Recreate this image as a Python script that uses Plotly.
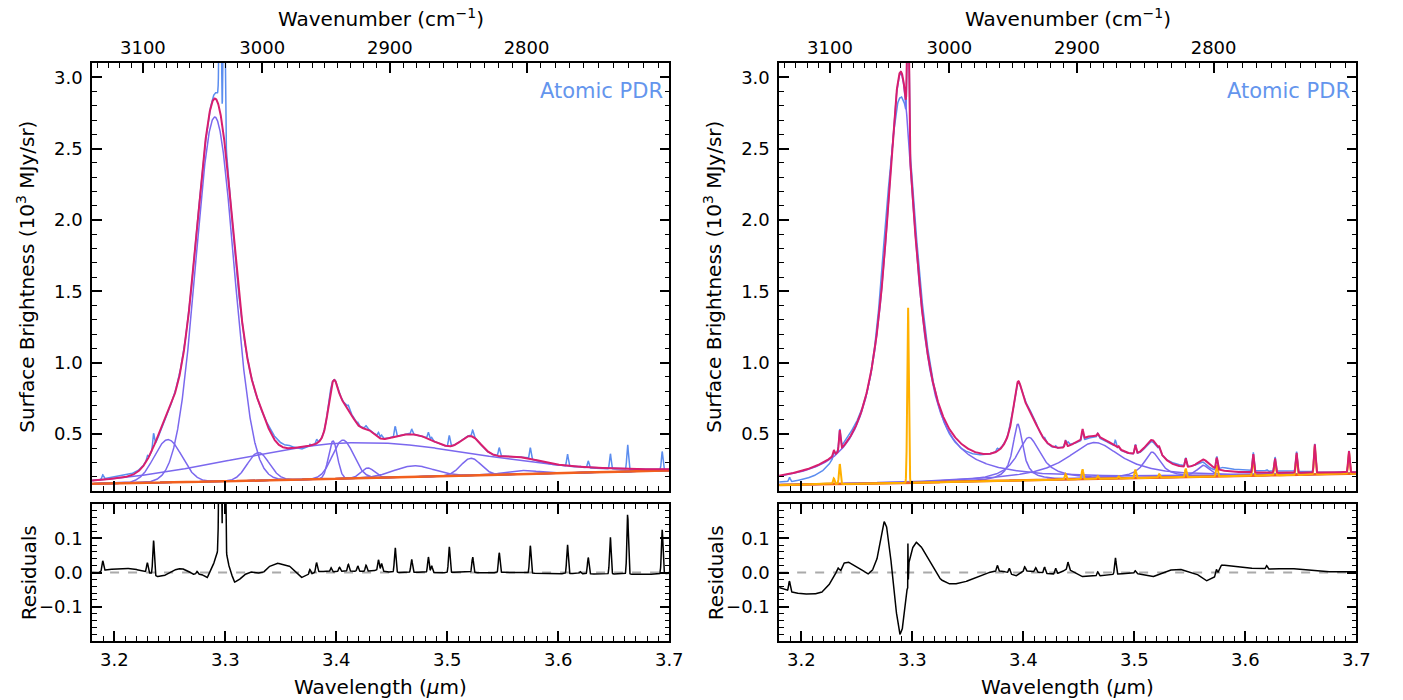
import numpy as np
import plotly.graph_objects as go

# ---------------- data ----------------
WL_MIN, WL_MAX = 3.18, 3.70

# continuum (10^3 MJy/sr)
L_cont_wl = [3.18, 3.30, 3.40, 3.50, 3.60, 3.70]
L_cont_val = [0.150, 0.168, 0.186, 0.205, 0.225, 0.244]
R_cont_wl = [3.18, 3.30, 3.40, 3.50, 3.60, 3.70]
R_cont_val = [0.142, 0.158, 0.175, 0.190, 0.206, 0.222]

# left panel (Atomic PDR, Gaussian fit): centre, peak above continuum, sigma
L_comp_center = [3.2483, 3.2905, 3.3298, 3.4150, 3.3970, 3.4060, 3.4284, 3.4699, 3.5213, 3.5670]
L_comp_amp = [0.300, 2.555, 0.196, 0.250, 0.265, 0.270, 0.070, 0.077, 0.120, 0.025]
L_comp_sigma = [0.0125, 0.0170, 0.0098, 0.1080, 0.0040, 0.0095, 0.0060, 0.0180, 0.0090, 0.0150]

# right panel (Lorentzian fit): centre, peak above continuum, half width
R_comp_center = [3.2895, 3.3950, 3.4050, 3.4640, 3.5160, 3.5620]
R_comp_amp = [2.870, 0.395, 0.300, 0.255, 0.180, 0.080]
R_comp_gamma = [0.0162, 0.0055, 0.0130, 0.0300, 0.0090, 0.0070]

# right panel narrow gas lines (gold): centre, peak above continuum
R_line_center = [3.2292, 3.2346, 3.2961, 3.4380, 3.4533, 3.4670, 3.4858, 3.5009, 3.5224,
                 3.5463, 3.5743, 3.6071, 3.6267, 3.6461, 3.6625, 3.6933]
R_line_amp = [0.04, 0.14, 1.24, 0.04, 0.07, 0.02, 0.015, 0.06, 0.025,
              0.06, 0.08, 0.13, 0.10, 0.14, 0.20, 0.15]
LINE_SIGMA = 0.0007

# residuals, left: smooth part
L_res_wl = [3.1800, 3.1850, 3.1927, 3.2000, 3.2087, 3.2170, 3.2246, 3.2326, 3.2386, 3.2446,
            3.2506, 3.2566, 3.2606, 3.2665, 3.2705, 3.2785, 3.2837, 3.2877, 3.2917, 3.2940,
            3.3000, 3.3012, 3.3044, 3.3084, 3.3124, 3.3164, 3.3224, 3.3280, 3.3343, 3.3383,
            3.3463, 3.3500, 3.3522, 3.3582, 3.3622, 3.3682, 3.3742, 3.3842, 3.3950, 3.4100,
            3.4250, 3.4360, 3.4460, 3.4559, 3.4750, 3.4950, 3.5150, 3.5350, 3.5550, 3.5755,
            3.5950, 3.6150, 3.6354, 3.6550, 3.6800, 3.7000]
L_res_val = [0.000, -0.002, 0.008, 0.010, 0.012, 0.011, 0.005, -0.002, -0.012, -0.010,
             0.002, 0.010, 0.012, 0.005, -0.005, -0.005, -0.015, 0.010, 0.045, 0.070,
             0.070, 0.050, 0.005, -0.028, -0.022, -0.008, 0.002, -0.002, 0.000, 0.015,
             0.028, 0.024, 0.022, 0.018, 0.005, -0.015, -0.008, 0.003, 0.002, 0.004,
             0.003, 0.006, 0.002, 0.000, 0.001, -0.001, 0.002, -0.002, 0.001, -0.002,
             -0.004, -0.003, -0.005, -0.004, -0.006, -0.002]
# residuals, left: narrow spikes (centre, height)
L_spike_wl = [3.1896, 3.2298, 3.2354, 3.2745, 3.2953, 3.2990, 3.3762, 3.3822, 3.3953, 3.4029,
              3.4109, 3.4193, 3.4268, 3.4380, 3.4408, 3.4531, 3.4679, 3.4830, 3.4859, 3.5018,
              3.5229, 3.5468, 3.5748, 3.6083, 3.6198, 3.6270, 3.6469, 3.6625, 3.6936]
L_spike_h = [0.030, 0.028, 0.100, 0.008, 1.200, 1.200, 0.015, 0.028, 0.012, 0.012,
             0.020, 0.016, 0.018, 0.032, 0.022, 0.072, 0.038, 0.045, 0.020, 0.075,
             0.045, 0.058, 0.080, 0.085, 0.006, 0.048, 0.108, 0.175, 0.128]

# residuals, right: smooth part
R_res_wl = [3.1800, 3.1841, 3.1909, 3.1980, 3.2100, 3.2179, 3.2239, 3.2291, 3.2331, 3.2355,
            3.2379, 3.2419, 3.2478, 3.2538, 3.2598, 3.2638, 3.2678, 3.2717, 3.2745, 3.2766,
            3.2798, 3.2837, 3.2869, 3.2889, 3.2909, 3.2937, 3.2953, 3.2958, 3.2960, 3.2964,
            3.2970, 3.2996, 3.3036, 3.3076, 3.3135, 3.3195, 3.3255, 3.3315, 3.3375, 3.3454,
            3.3534, 3.3614, 3.3693, 3.3813, 3.3932, 3.4012, 3.4111, 3.4191, 3.4291, 3.4402,
            3.4530, 3.4670, 3.4829, 3.5008, 3.5168, 3.5327, 3.5407, 3.5566, 3.5646, 3.5738,
            3.5785, 3.5885, 3.6005, 3.6192, 3.6403, 3.6682, 3.7000]
R_res_val = [-0.044, -0.049, -0.057, -0.061, -0.064, -0.059, -0.041, -0.015, 0.013, 0.005,
             0.027, 0.031, 0.021, 0.010, -0.005, 0.005, 0.034, 0.098, 0.149, 0.137,
             0.069, -0.069, -0.147, -0.181, -0.167, -0.078, -0.049, -0.045, 0.085, -0.020,
             0.030, 0.069, 0.088, 0.078, 0.044, 0.010, -0.020, -0.032, -0.034, -0.030,
             -0.020, -0.008, 0.000, 0.005, -0.010, 0.005, 0.002, -0.002, -0.005, 0.010,
             -0.012, -0.010, -0.005, -0.002, -0.012, 0.007, 0.010, -0.005, -0.025, -0.012,
             0.022, 0.018, 0.013, 0.010, 0.012, 0.002, 0.002]
R_spike_wl = [3.1893, 3.3765, 3.3873, 3.4012, 3.4111, 3.4191, 3.4291, 3.4402, 3.4670, 3.4829,
              3.5008, 3.5738, 3.6192]
R_spike_h = [0.030, 0.018, 0.015, 0.012, 0.012, 0.018, 0.017, 0.020, 0.012, 0.048,
             0.007, 0.020, 0.010]

WN_TICKS = [3100, 3000, 2900, 2800]

# ---------------- model evaluation ----------------
wl = np.linspace(WL_MIN, WL_MAX, 2601)


def gauss(x, c, a, s):
    return a * np.exp(-0.5 * ((x - c) / s) ** 2)


def lorentz(x, c, a, g):
    return a / (1.0 + ((x - c) / g) ** 2)


L_cont = np.interp(wl, L_cont_wl, L_cont_val)
R_cont = np.interp(wl, R_cont_wl, R_cont_val)

L_comps = [gauss(wl, c, a, s) for c, a, s in zip(L_comp_center, L_comp_amp, L_comp_sigma)]
R_comps = [lorentz(wl, c, a, g) for c, a, g in zip(R_comp_center, R_comp_amp, R_comp_gamma)]
R_lines = sum(gauss(wl, c, a, LINE_SIGMA) for c, a in zip(R_line_center, R_line_amp))

L_model = L_cont + sum(L_comps)
R_model = R_cont + sum(R_comps) + R_lines

L_res = np.interp(wl, L_res_wl, L_res_val) + sum(
    gauss(wl, c, h, LINE_SIGMA) for c, h in zip(L_spike_wl, L_spike_h))
R_res = np.interp(wl, R_res_wl, R_res_val) + sum(
    gauss(wl, c, h, LINE_SIGMA) for c, h in zip(R_spike_wl, R_spike_h))

L_obs = L_model + L_res
R_obs = R_model + R_res

# ---------------- figure ----------------
BLUE = "#5B8DEF"
MAGENTA = "#D81E6E"
PURPLE = "#7B68EE"
ORANGE = "#F2601E"
GOLD = "#FFB000"
FONT = "DejaVu Sans"

W, H = 1403, 700
XD = [[93 / W, 676 / W], [787 / W, 1370 / W]]
YD_MAIN = [1 - 491 / H, 1 - 63 / H]
YD_RES = [1 - 641 / H, 1 - 504 / H]

fig = go.Figure()


def add_panel(col, obs, comps, cont, model, res, lines=None):
    xm = "x" if col == 0 else "x4"
    ym = "y" if col == 0 else "y3"
    xr = "x2" if col == 0 else "x5"
    yr = "y2" if col == 0 else "y4"
    xt = "x3" if col == 0 else "x6"
    fig.add_trace(go.Scatter(x=wl, y=obs, mode="lines", line=dict(color=BLUE, width=1.5),
                             xaxis=xm, yaxis=ym, showlegend=False, hoverinfo="skip"))
    for comp in comps:
        fig.add_trace(go.Scatter(x=wl, y=cont + comp, mode="lines",
                                 line=dict(color=PURPLE, width=1.5),
                                 xaxis=xm, yaxis=ym, showlegend=False, hoverinfo="skip"))
    fig.add_trace(go.Scatter(x=wl, y=cont, mode="lines", line=dict(color=ORANGE, width=2.5),
                             xaxis=xm, yaxis=ym, showlegend=False, hoverinfo="skip"))
    if lines is not None:
        fig.add_trace(go.Scatter(x=wl, y=cont + lines, mode="lines",
                                 line=dict(color=GOLD, width=2),
                                 xaxis=xm, yaxis=ym, showlegend=False, hoverinfo="skip"))
    fig.add_trace(go.Scatter(x=wl, y=model, mode="lines", line=dict(color=MAGENTA, width=2),
                             xaxis=xm, yaxis=ym, showlegend=False, hoverinfo="skip"))
    # top wavenumber axis carrier (invisible)
    fig.add_trace(go.Scatter(x=[WL_MIN, WL_MAX], y=[None, None], mode="lines",
                             xaxis=xt, yaxis=ym, showlegend=False, hoverinfo="skip"))
    # residuals
    fig.add_trace(go.Scatter(x=[WL_MIN, WL_MAX], y=[0, 0], mode="lines",
                             line=dict(color="#AAAAAA", width=2, dash="dash"),
                             xaxis=xr, yaxis=yr, showlegend=False, hoverinfo="skip"))
    fig.add_trace(go.Scatter(x=wl, y=res, mode="lines", line=dict(color="black", width=1.5),
                             xaxis=xr, yaxis=yr, showlegend=False, hoverinfo="skip"))


add_panel(0, L_obs, L_comps, L_cont, L_model, L_res)
add_panel(1, R_obs, R_comps, R_cont, R_model, R_res, R_lines)

tickfont = dict(family=FONT, size=18, color="black")
common = dict(showline=True, linecolor="black", linewidth=1.5, ticks="inside",
              tickcolor="black", tickwidth=1.5, showgrid=False, zeroline=False,
              tickfont=tickfont)

wn_vals = [1e4 / w for w in WN_TICKS]
wn_minor = [1e4 / w for w in range(2710, 3150, 10) if w % 100 != 0]

for col in range(2):
    sfx = ["", "2", "3"] if col == 0 else ["4", "5", "6"]
    ysfx = ["", "2"] if col == 0 else ["3", "4"]
    ym_name = "y" + ysfx[0]
    yr_name = "y" + ysfx[1]
    fig.update_layout(**{
        "xaxis" + sfx[0]: dict(common, domain=XD[col], anchor=ym_name, range=[WL_MIN, WL_MAX],
                               tick0=3.2, dtick=0.1, ticklen=10, showticklabels=False,
                               mirror=True,
                               minor=dict(dtick=0.01, tick0=3.2, ticklen=5, ticks="inside",
                                          tickcolor="black", tickwidth=1.2)),
        "xaxis" + sfx[1]: dict(common, domain=XD[col], anchor=yr_name, range=[WL_MIN, WL_MAX],
                               tick0=3.2, dtick=0.1, ticklen=10, mirror="ticks",
                               tickformat=".1f", ticklabelstandoff=2,
                               minor=dict(dtick=0.01, tick0=3.2, ticklen=5, ticks="inside",
                                          tickcolor="black", tickwidth=1.2)),
        "xaxis" + sfx[2]: dict(common, overlaying="x" + sfx[0], side="top", anchor=ym_name,
                               range=[WL_MIN, WL_MAX], tickmode="array", tickvals=wn_vals,
                               ticktext=[str(w) for w in WN_TICKS], ticklen=10,
                               ticklabelstandoff=0,
                               minor=dict(tickmode="array", tickvals=wn_minor, ticklen=5,
                                          ticks="inside", tickcolor="black", tickwidth=1.2)),
        "yaxis" + ysfx[0]: dict(common, domain=YD_MAIN, anchor="x" + sfx[0], range=[0.1, 3.1],
                                tick0=0.5, dtick=0.5, ticklen=10, mirror="ticks",
                                tickformat=".1f", ticklabelstandoff=4,
                                minor=dict(dtick=0.1, tick0=0.0, ticklen=5, ticks="inside",
                                           tickcolor="black", tickwidth=1.2)),
        "yaxis" + ysfx[1]: dict(common, domain=YD_RES, anchor="x" + sfx[1],
                                range=[-0.2, 0.2], tickmode="array",
                                tickvals=[-0.1, 0.0, 0.1], ticktext=["\u22120.1", "0.0", "0.1"],
                                ticklen=10, mirror="ticks", ticklabelstandoff=4,
                                minor=dict(tickmode="array",
                                           tickvals=[-0.18, -0.16, -0.14, -0.12, -0.08, -0.06,
                                                     -0.04, -0.02, 0.02, 0.04, 0.06, 0.08,
                                                     0.12, 0.14, 0.16, 0.18],
                                           ticklen=5, ticks="inside", tickcolor="black",
                                           tickwidth=1.2)),
    })

annots = []
tfont = dict(family=FONT, size=20, color="black")
for col in range(2):
    x0, x1 = XD[col]
    xc = (x0 + x1) / 2
    left_px = 93 if col == 0 else 787
    annots += [
        dict(text="Wavenumber (cm<sup>\u22121</sup>)", x=xc, y=1 - 18 / H, xref="paper",
             yref="paper", showarrow=False, font=tfont, xanchor="center", yanchor="middle"),
        dict(text="Wavelength (<i>\u03bc</i>m)", x=xc, y=1 - 687 / H, xref="paper",
             yref="paper", showarrow=False, font=tfont, xanchor="center", yanchor="middle"),
        dict(text="Surface Brightness (10<sup>3</sup> MJy/sr)", x=(left_px - 67) / W,
             y=(YD_MAIN[0] + YD_MAIN[1]) / 2, xref="paper", yref="paper", showarrow=False,
             font=tfont, textangle=-90, xanchor="center", yanchor="middle"),
        dict(text="Residuals", x=(left_px - 64) / W, y=(YD_RES[0] + YD_RES[1]) / 2,
             xref="paper", yref="paper", showarrow=False, font=tfont, textangle=-90,
             xanchor="center", yanchor="middle"),
        dict(text="Atomic PDR", x=x1 - 4 / W, y=1 - 91 / H, xref="paper", yref="paper",
             showarrow=False, font=dict(family=FONT, size=21, color="#6495ED"),
             xanchor="right", yanchor="middle"),
    ]

fig.update_layout(width=W, height=H, margin=dict(l=0, r=0, t=0, b=0),
                  paper_bgcolor="white", plot_bgcolor="white", annotations=annots,
                  showlegend=False)

fig.write_html("out.html", config={"displayModeBar": False},
               post_script="document.body.style.margin='0';"
                           "document.body.style.overflow='hidden';")
